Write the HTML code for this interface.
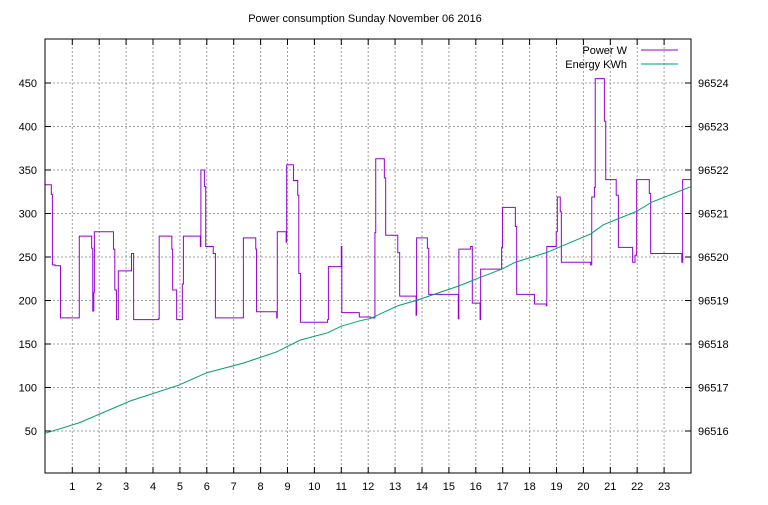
<!DOCTYPE html>
<html><head><meta charset="utf-8"><style>
body{margin:0;background:#fff;}
svg text{font-family:"Liberation Sans",sans-serif;font-size:11px;fill:#000;}
</style></head><body>
<svg id="chart" width="768" height="500" xmlns="http://www.w3.org/2000/svg">
<rect width="768" height="500" fill="#fff"/>
<text x="365" y="22" text-anchor="middle">Power consumption Sunday November 06 2016</text>
<g id="grid"></g>
<g id="axes"></g>
<g id="series"></g>
<g>
<text x="627" y="54" text-anchor="end">Power W</text>
<line x1="641" y1="50" x2="678" y2="50" stroke="#9400d3"/>
<text x="627" y="68" text-anchor="end">Energy KWh</text>
<line x1="641" y1="64" x2="678" y2="64" stroke="#009e73"/>
</g>
</svg>
<script>
const xTicks=[1,2,3,4,5,6,7,8,9,10,11,12,13,14,15,16,17,18,19,20,21,22,23];
const yTicksLeft=[50,100,150,200,250,300,350,400,450];
const yTicksRight=[96516,96517,96518,96519,96520,96521,96522,96523,96524];
const powerHours=[0,0.22,0.26,0.36,0.56,1.26,1.72,1.76,1.8,1.82,2.53,2.58,2.64,2.71,3.2,3.28,4.21,4.23,4.7,4.73,4.88,5.09,5.13,5.76,5.78,5.91,5.96,6.24,6.32,7.36,7.82,7.85,8.6,8.62,8.95,8.97,9.22,9.38,9.42,9.48,10.49,10.52,11.0,11.02,11.67,12.1,12.25,12.28,12.6,12.65,13.1,13.17,13.78,13.8,14.2,14.25,15.35,15.37,15.81,15.87,16.16,16.18,16.96,16.99,17.47,17.52,18.18,18.62,18.64,18.99,19.03,19.14,19.18,20.27,20.31,20.41,20.44,20.78,20.83,21.22,21.3,21.83,21.92,21.98,22.45,22.5,23.66,23.69,24.0];
const powerValues=[333,322,241,240,180,274,260,188,209,279,259,212,178,234,254,178,179,274,259,212,178,219,274,262,350,331,262,254,180,272,259,187,180,279,267,356,338,321,231,175,178,239,262,186,181,180,278,363,341,275,255,205,183,272,260,207,179,259,262,197,178,236,261,307,285,207,196,194,262,279,319,302,244,241,319,330,455,406,339,321,261,244,252,339,323,254,244,339,339];
const energyHours=[0,1.26,3.15,4.94,6,7.36,8.6,9.47,10.5,11,11.67,12.1,13.1,13.78,15.35,16.16,16.96,17.47,18.62,20.27,20.74,21.98,22.54,23.97];
const energyValues=[96515.95,96516.19,96516.69,96517.05,96517.34,96517.56,96517.82,96518.09,96518.26,96518.41,96518.53,96518.59,96518.88,96519.0,96519.33,96519.53,96519.72,96519.88,96520.1,96520.53,96520.74,96521.05,96521.26,96521.61];
const L=45,R=691,T=39,B=473;
const xs=h=>45.4+h*26.9;
const yl=v=>474.5-v*0.87;
const yr=e=>431-(e-96516)*43.5;
const NS="http://www.w3.org/2000/svg";
function mk(tag,attrs,parent){const e=document.createElementNS(NS,tag);for(const k in attrs)e.setAttribute(k,attrs[k]);parent.appendChild(e);return e;}
const grid=document.getElementById('grid'),axes=document.getElementById('axes'),series=document.getElementById('series');
xTicks.forEach(h=>{const x=xs(h);
 const g=mk('line',{x1:x,y1:T,x2:x,y2:B,stroke:'#a0a0a0','stroke-dasharray':'2,2'},grid);
 
 
 const t=mk('text',{x:x,y:490,'text-anchor':'middle'},axes);t.textContent=h;
 
 
 mk('line',{x1:x,y1:B,x2:x,y2:B-6,stroke:'#000'},axes);
 mk('line',{x1:x,y1:T,x2:x,y2:T+6,stroke:'#000'},axes);
});
yTicksLeft.forEach(v=>{const y=yl(v);
 const g=mk('line',{x1:L,y1:y,x2:R,y2:y,stroke:'#a0a0a0','stroke-dasharray':'2,2'},grid);
 
 
 const t=mk('text',{x:37,y:y+4,'text-anchor':'end'},axes);t.textContent=v;
 
 
 mk('line',{x1:L,y1:y,x2:L+6,y2:y,stroke:'#000'},axes);
});
yTicksRight.forEach(v=>{const y=yr(v);
 const t=mk('text',{x:698,y:y+4,'text-anchor':'start'},axes);t.textContent=v;
 
 
 mk('line',{x1:R,y1:y,x2:R-6,y2:y,stroke:'#000'},axes);
});
const fr=mk('rect',{x:L,y:T,width:R-L,height:B-T,fill:'none',stroke:'#000'},axes);


let d='';
powerHours.forEach((h,i)=>{const x=xs(h),y=yl(powerValues[i]);
 if(i===0)d+='M'+x+','+y;else d+='H'+x+'V'+y;});
const pp=mk('path',{d:d,fill:'none',stroke:'#9400d3','stroke-width':1},series);


const ep=mk('polyline',{points:energyHours.map((h,i)=>xs(h)+','+yr(energyValues[i])).join(' '),fill:'none',stroke:'#009e73','stroke-width':1},series);


</script>
</body></html>
